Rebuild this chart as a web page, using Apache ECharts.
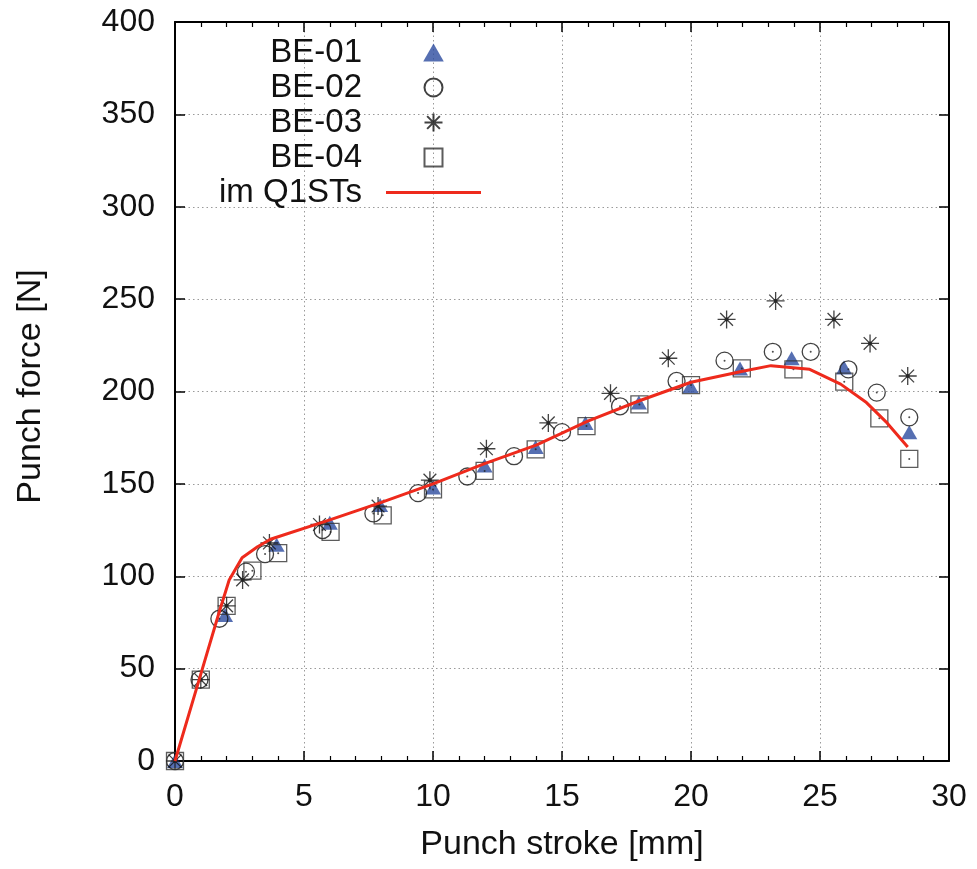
<!DOCTYPE html>
<html>
<head>
<meta charset="utf-8">
<script src="https://cdn.jsdelivr.net/npm/echarts@6/dist/echarts.min.js"></script>
<style>
html,body{margin:0;padding:0;background:#fff;}
#chart{width:977px;height:869px;}
</style>
</head>
<body>
<div id="chart"></div>
<script>
// ---- data ----
const seriesNames = ['BE-01', 'BE-02', 'BE-03', 'BE-04', 'im Q1STs'];
const be01 = [[0,0],[1.94,79],[3.94,117],[6.0,129],[7.95,138.5],[10.0,148],[12.0,160],[13.98,170],[15.91,183],[17.98,194],[19.98,203],[21.9,212.5],[23.9,218],[25.93,213],[28.46,178]];
const be02 = [[0,0],[0.95,44],[1.72,77],[2.75,102.5],[3.49,112],[5.72,125],[7.69,134],[9.42,145],[11.33,154],[13.14,165],[15.0,178],[17.25,192],[19.44,205.7],[21.3,216.7],[23.17,221.5],[24.64,221.5],[26.1,212],[27.2,199.4],[28.46,186]];
const be03 = [[0,0],[1.0,44],[2.0,84],[2.62,98],[3.66,118],[5.6,128],[7.87,138],[9.88,152],[12.07,169],[14.47,183],[16.88,199],[19.12,218],[21.38,239],[23.28,249],[25.54,239],[26.94,226],[28.4,208.4]];
const be04 = [[0,0],[1.0,44],[2.0,84],[3.0,103],[4.0,112.5],[6.03,124],[8.05,133],[10.0,147],[12.0,157],[13.98,168.7],[15.95,181.3],[18.0,193],[20.0,203.5],[21.97,212.5],[23.97,212],[25.94,205.3],[27.3,185.5],[28.46,163.5]];
const simLine = [[0,0],[1,47],[1.7,80],[2.1,98],[2.6,110],[3.2,116],[3.7,120],[6,130.5],[8,140],[10,150],[12,161],[14,171],[16,184],[18,195],[20,205],[22,211],[23.1,214],[24.6,212],[25.8,204],[26.8,194],[27.6,183],[28.4,170]];
const xTicks = { min: 0, max: 30, interval: 5 };
const yTicks = { min: 0, max: 400, interval: 50 };

const FONT = "'Liberation Sans', Arial, Helvetica, sans-serif";
const asterisk = 'path://M10,0L10,20M0,10L20,10M2.93,2.93L17.07,17.07M2.93,17.07L17.07,2.93';
const triPath = 'path://M8,0L16,14L0,14Z';
const sqPath = 'path://M0,0L16,0L16,16L0,16Z';
const gridLine = { show: true, lineStyle: { color: '#9a9a9a', type: [1.5, 3], width: 1 } };
const axisLineStyle = { show: true, onZero: false, lineStyle: { color: '#000', width: 2 } };

function xAxisDef(pos, main) {
  return {
    type: 'value', position: pos, min: xTicks.min, max: xTicks.max, interval: xTicks.interval,
    axisLine: axisLineStyle,
    axisTick: { show: true, inside: true, length: 10, lineStyle: { color: '#000', width: 1.5 } },
    minorTick: { show: true, splitNumber: 5, length: 5, lineStyle: { color: '#000', width: 1.2 } },
    splitLine: main ? gridLine : { show: false },
    axisLabel: main ? { show: true, fontSize: 32, fontFamily: FONT, color: '#111', margin: 20 } : { show: false },
    name: main ? 'Punch stroke [mm]' : '',
    nameLocation: 'middle', nameGap: 67,
    nameTextStyle: { fontSize: 34, fontFamily: FONT, color: '#111' }
  };
}
function yAxisDef(pos, main) {
  return {
    type: 'value', position: pos, min: yTicks.min, max: yTicks.max, interval: yTicks.interval,
    axisLine: axisLineStyle,
    axisTick: { show: true, inside: true, length: 10, lineStyle: { color: '#000', width: 1.5 } },
    splitLine: main ? gridLine : { show: false },
    axisLabel: main ? { show: true, fontSize: 32, fontFamily: FONT, color: '#111', margin: 20 } : { show: false },
    name: main ? 'Punch force [N]' : '',
    nameLocation: 'middle', nameGap: 127,
    nameTextStyle: { fontSize: 34, fontFamily: FONT, color: '#111', padding: [0, 0, 0, 10] }
  };
}

function dotSeries(data, size) {
  return {
    type: 'scatter', name: 'dot', data: data, symbol: 'circle', symbolSize: size,
    itemStyle: { color: '#222' }, silent: true, z: 4, xAxisIndex: 0, yAxisIndex: 0
  };
}

const chart = echarts.init(document.getElementById('chart'), null, { renderer: 'canvas' });
chart.setOption({
  animation: false,
  backgroundColor: '#fff',
  textStyle: { fontFamily: FONT },
  grid: { left: 175, right: 28, top: 22, bottom: 108, containLabel: false },
  xAxis: [xAxisDef('bottom', true), xAxisDef('top', false)],
  yAxis: [yAxisDef('left', true), yAxisDef('right', false)],
  legend: {
    orient: 'vertical', align: 'right',
    right: 496, top: 36, padding: 0,
    itemWidth: 95, itemHeight: 18, itemGap: 2,
    symbolKeepAspect: true,
    textStyle: { fontSize: 33, fontFamily: FONT, color: '#111', padding: [0, 19, 0, 0] },
    data: [
      { name: seriesNames[0], icon: triPath },
      { name: seriesNames[1] },
      { name: seriesNames[2] },
      { name: seriesNames[3], icon: sqPath },
      { name: seriesNames[4], icon: 'path://M0,0L95,0L95,3L0,3Z' }
    ]
  },
  series: [
    {
      name: seriesNames[0], type: 'scatter', data: be01, symbol: 'triangle', symbolSize: [16, 14],
      itemStyle: { color: '#2c4b9f' }, z: 3, xAxisIndex: 0, yAxisIndex: 0
    },
    {
      name: seriesNames[1], type: 'scatter', data: be02, symbol: 'circle', symbolSize: 17,
      itemStyle: { color: 'rgba(0,0,0,0)', borderColor: '#111', borderWidth: 1.3 }, z: 3, xAxisIndex: 0, yAxisIndex: 0
    },
    {
      name: seriesNames[2], type: 'scatter', data: be03, symbol: asterisk, symbolSize: 18,
      itemStyle: { color: 'rgba(0,0,0,0)', borderColor: '#111', borderWidth: 1.3 }, z: 3, xAxisIndex: 0, yAxisIndex: 0
    },
    {
      name: seriesNames[3], type: 'scatter', data: be04, symbol: 'rect', symbolSize: 17,
      itemStyle: { color: 'rgba(0,0,0,0)', borderColor: '#333', borderWidth: 1.3 }, z: 3, xAxisIndex: 0, yAxisIndex: 0
    },
    dotSeries(be02, 2), dotSeries(be03, 4), dotSeries(be04, 2),
    {
      name: seriesNames[4], type: 'line', data: simLine, symbol: 'none', showSymbol: false,
      lineStyle: { color: '#ee2a1c', width: 3 }, itemStyle: { color: '#ee2a1c' }, z: 5,
      xAxisIndex: 0, yAxisIndex: 0
    }
  ]
});
</script>
</body>
</html>
